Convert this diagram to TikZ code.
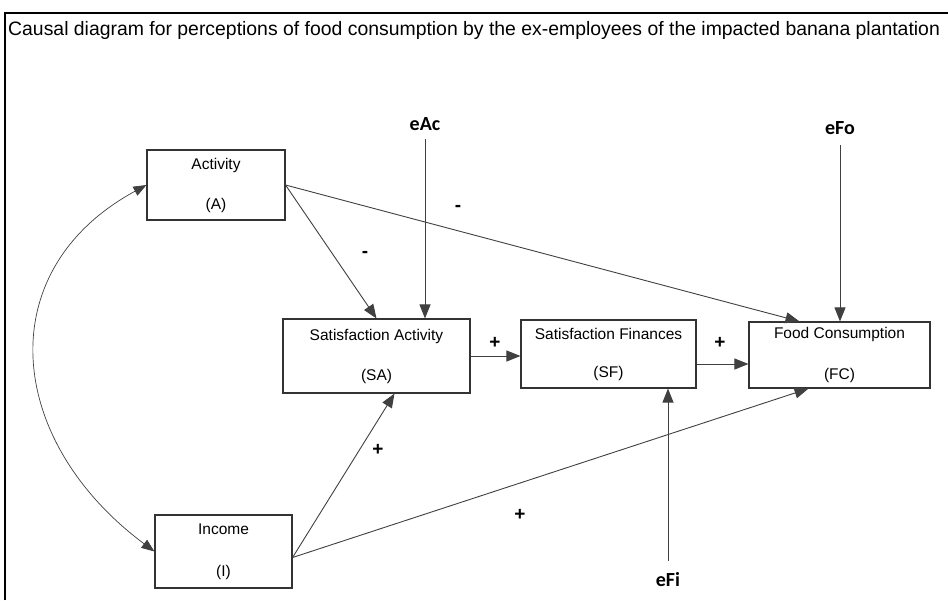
\documentclass[tikz,border=0pt]{standalone}
\usepackage{fontspec}
\setmainfont{Liberation Sans}
\newfontfamily\errfont{Carlito}
\usetikzlibrary{arrows.meta}
\tikzset{
  varbox/.style={draw=black!80, line width=1.1pt, fill=white, align=center,
    font=\fontsize{15.5}{18}\selectfont, inner sep=0pt},
  errlabel/.style={font=\errfont\bfseries\fontsize{20}{22}\selectfont, inner sep=8pt},
  sign/.style={font=\bfseries\fontsize{19}{20}\selectfont, inner sep=1pt},
  path/.style={draw=black!75, line width=0.9pt, -{Triangle[length=14pt,width=11pt]}},
}
\begin{document}
\begin{tikzpicture}[x=1pt,y=-1pt]
    \useasboundingbox (0,0) rectangle (948,600);
    \draw[line width=1.6pt] (5,600) -- (5,13) -- (948,13);
    \node[anchor=west, inner sep=0pt, font=\fontsize{19.4}{22}\selectfont] (title) at (8,30)
        {Causal diagram for perceptions of food consumption by the ex-employees of the impacted banana plantation};
    % variables
    \node[varbox, minimum width=138pt, minimum height=70pt] (act) at (216,185) {Activity\\[22pt](A)};
    \node[varbox, minimum width=187pt, minimum height=74pt] (sa) at (376.5,356) {Satisfaction Activity\\[22pt](SA)};
    \node[varbox, minimum width=175pt, minimum height=68pt] (sf) at (608.5,354) {Satisfaction Finances\\[20pt](SF)};
    \node[varbox, minimum width=181pt, minimum height=66pt] (fc) at (839.5,355) {Food Consumption\\[23pt](FC)};
    \node[varbox, minimum width=137pt, minimum height=73pt] (inc) at (223.5,551.5) {Income\\[24pt](I)};
    % error terms
    \node[errlabel] (eac) at (425,124) {eAc};
    \node[errlabel, inner sep=10pt] (efo) at (840,128) {eFo};
    \node[errlabel, inner sep=12pt] (efi) at (668,580) {eFi};
    % paths
    \draw[path] (act.east) -- (sa.north);
    \draw[path] (act.east) -- ([xshift=-40pt]fc.north);
    \draw[path] (eac) -- (eac |- sa.north);
    \draw[path] (efo) -- (efo |- fc.north);
    \draw[path] (sa.east) -- (sa.east -| sf.west);
    \draw[path] ([yshift=-10pt]sf.east) -- ([yshift=-10pt]sf.east -| fc.west);
    \draw[path] (efi) -- (efi |- sf.south);
    \draw[path] ([yshift=-6pt]inc.east) -- ([xshift=18pt]sa.south);
    \draw[path] ([yshift=-6pt]inc.east) -- ([xshift=-31pt]fc.south);
    \draw[path, {Triangle[length=13pt,width=10pt]}-{Triangle[length=13pt,width=10pt]}, line width=0.7pt]
        (act.west) .. controls (-10,270) and (5,440) .. (inc.west);
    % signs
    \node[sign] (s1) at (365,254) {-};
    \node[sign] (s2) at (458,208) {-};
    \node[sign] (s3) at (495,343) {+};
    \node[sign] (s4) at (720,343) {+};
    \node[sign] (s5) at (378,450) {+};
    \node[sign] (s6) at (520,515) {+};
\end{tikzpicture}
\end{document}
